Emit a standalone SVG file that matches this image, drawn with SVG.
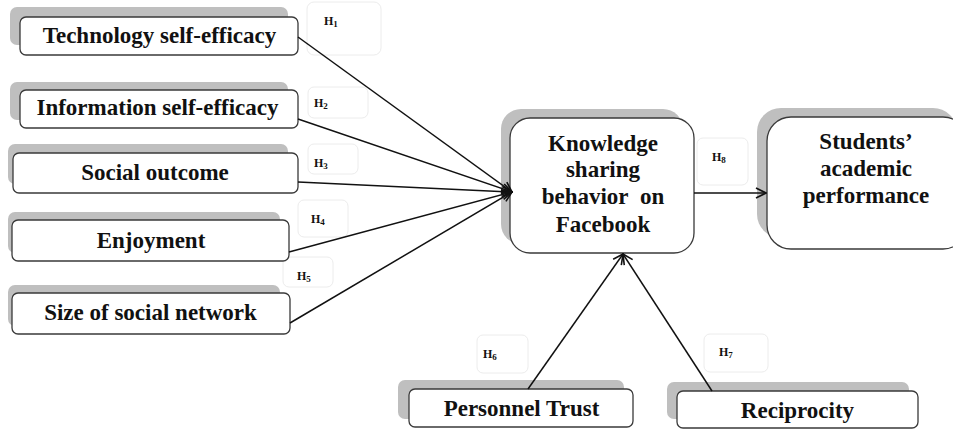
<svg xmlns="http://www.w3.org/2000/svg" width="953" height="430" viewBox="0 0 953 430">
<defs>
<marker id="arr" viewBox="0 0 12 12" refX="11" refY="6" markerWidth="12" markerHeight="12" markerUnits="userSpaceOnUse" orient="auto">
<path d="M1,1 L11,6 L1,11" fill="none" stroke="#111" stroke-width="1.6"/>
</marker>
</defs>
<style>
.sh{fill:#bfbfbf;}
.bx{fill:#fff;stroke:#3a3a3a;stroke-width:1.3;}
.hb{fill:#fff;stroke:#ececec;stroke-width:1;}
.t{font-family:'Liberation Serif',serif;font-weight:bold;font-size:23px;fill:#111;text-anchor:middle;}
.h{font-family:'Liberation Serif',serif;font-weight:bold;font-size:12px;fill:#111;}
.s{font-size:9px;}
.ln{stroke:#111;stroke-width:1.5;fill:none;marker-end:url(#arr);}
</style>
<rect width="953" height="430" fill="#fff"/>
<g id="labels">
<rect class="hb" x="307" y="2" width="74" height="53" rx="7"/>
<text class="h" x="324" y="25">H<tspan class="s" dy="2">1</tspan></text>
<rect class="hb" x="308" y="87" width="60" height="31" rx="6"/>
<text class="h" x="314" y="107">H<tspan class="s" dy="2">2</tspan></text>
<rect class="hb" x="308" y="144" width="50" height="30" rx="6"/>
<text class="h" x="314" y="167">H<tspan class="s" dy="2">3</tspan></text>
<rect class="hb" x="298" y="200" width="50" height="37" rx="6"/>
<text class="h" x="311" y="223">H<tspan class="s" dy="2">4</tspan></text>
<rect class="hb" x="283" y="257" width="50" height="30" rx="6"/>
<text class="h" x="297" y="280">H<tspan class="s" dy="2">5</tspan></text>
<rect class="hb" x="477" y="335" width="51" height="38" rx="6"/>
<text class="h" x="483" y="358">H<tspan class="s" dy="2">6</tspan></text>
<rect class="hb" x="704" y="334" width="64" height="38" rx="6"/>
<text class="h" x="719" y="356">H<tspan class="s" dy="2">7</tspan></text>
<rect class="hb" x="697" y="138" width="51" height="47" rx="6"/>
<text class="h" x="712" y="161">H<tspan class="s" dy="2">8</tspan></text>
</g>
<g id="n-tech">
<rect class="sh" x="10" y="7" width="278" height="38" rx="7"/>
<rect class="bx" x="20" y="17" width="278" height="38" rx="6"/>
<text class="t" x="159.5" y="43">Technology self-efficacy</text>
</g>
<g id="n-info">
<rect class="sh" x="10" y="82" width="278" height="38" rx="7"/>
<rect class="bx" x="20" y="90" width="278" height="38" rx="6"/>
<text class="t" x="157.5" y="115">Information self-efficacy</text>
</g>
<g id="n-social">
<rect class="sh" x="8" y="144" width="280" height="40" rx="7"/>
<rect class="bx" x="13" y="153" width="285" height="40" rx="6"/>
<text class="t" x="155" y="180">Social outcome</text>
</g>
<g id="n-enjoy">
<rect class="sh" x="8" y="212" width="272" height="41" rx="7"/>
<rect class="bx" x="12" y="220" width="277" height="41" rx="6"/>
<text class="t" x="151" y="248">Enjoyment</text>
</g>
<g id="n-size">
<rect class="sh" x="8" y="285" width="272" height="41" rx="7"/>
<rect class="bx" x="12" y="293" width="278" height="41" rx="6"/>
<text class="t" x="150.5" y="320">Size of social network</text>
</g>
<g id="n-ks">
<rect class="sh" x="501" y="109" width="182" height="135" rx="20"/>
<rect class="bx" x="510" y="118" width="184" height="135" rx="20"/>
<text class="t" x="603" y="151">Knowledge</text>
<text class="t" x="603" y="177">sharing</text>
<text class="t" x="603" y="204">behavior&#160; on</text>
<text class="t" x="603" y="232">Facebook</text>
</g>
<g id="n-perf">
<rect class="sh" x="757" y="108" width="200" height="130" rx="24"/>
<rect class="bx" x="767" y="117" width="200" height="132" rx="24"/>
<text class="t" x="866" y="149">Students’</text>
<text class="t" x="866" y="176">academic</text>
<text class="t" x="866" y="203">performance</text>
</g>
<g id="n-trust">
<rect class="sh" x="398" y="380" width="226" height="39" rx="7"/>
<rect class="bx" x="409" y="389" width="224" height="38" rx="6"/>
<text class="t" x="521.5" y="416">Personnel Trust</text>
</g>
<g id="n-recip">
<rect class="sh" x="667" y="382" width="242" height="37" rx="7"/>
<rect class="bx" x="677" y="391" width="241" height="37" rx="6"/>
<text class="t" x="797.5" y="418">Reciprocity</text>
</g>
<g id="connectors">
<line class="ln" x1="298" y1="37" x2="512" y2="192"/>
<line class="ln" x1="298" y1="119" x2="512" y2="192"/>
<line class="ln" x1="298" y1="182" x2="512" y2="192"/>
<line class="ln" x1="289" y1="252" x2="512" y2="192"/>
<line class="ln" x1="290" y1="323" x2="512" y2="192"/>
<line class="ln" x1="528" y1="389" x2="623" y2="254"/>
<line class="ln" x1="712" y1="391" x2="623" y2="254"/>
<line class="ln" x1="694" y1="193" x2="766" y2="193"/>
</g>
</svg>
